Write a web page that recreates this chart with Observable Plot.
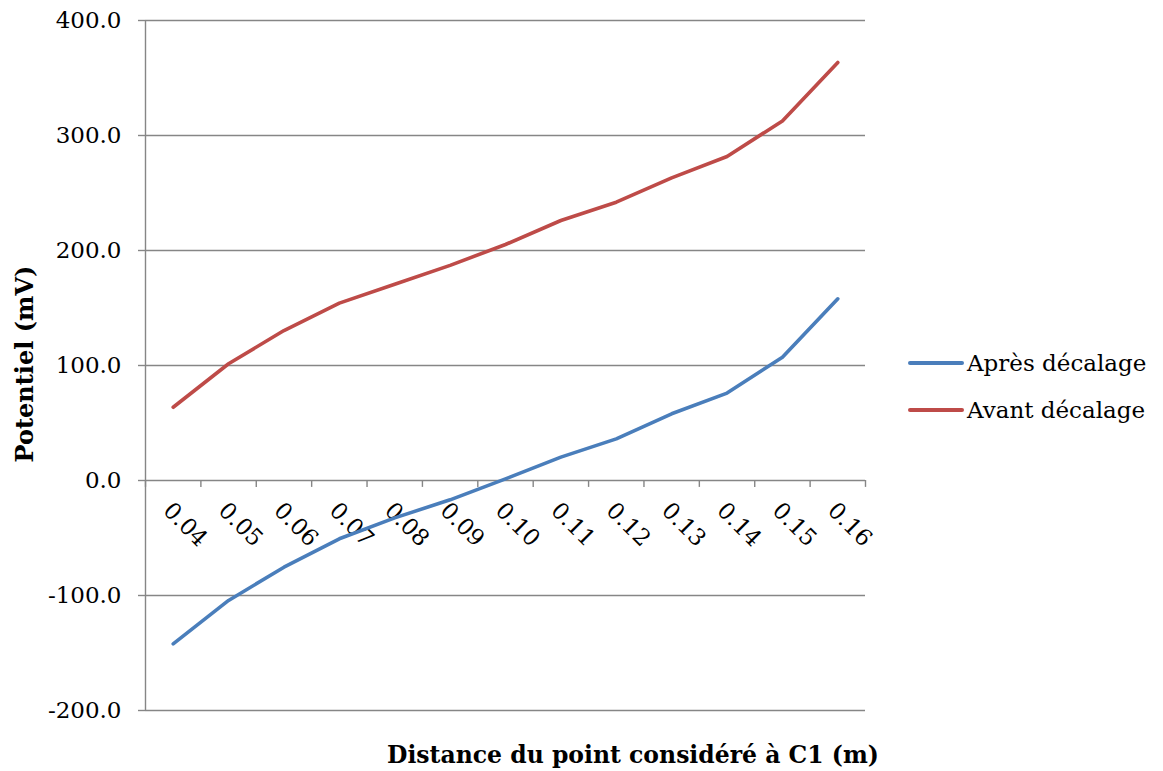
<!DOCTYPE html>
<html><head><meta charset="utf-8">
<script src="https://cdn.jsdelivr.net/npm/d3@7"></script>
<script src="https://cdn.jsdelivr.net/npm/@observablehq/plot@0.6"></script>
<style>
body{margin:0;background:#fff;}
#wrap{position:relative;width:1163px;height:771px;font-family:"DejaVu Serif",serif;color:#000;}
#wrap svg{position:absolute;left:0;top:0;}
.legend{position:absolute;left:908px;top:339px;font-size:23px;}
.item{display:flex;align-items:center;height:47px;}
.sw{width:56px;height:4px;border-radius:2px;margin-right:3px;}
.ytitle{position:absolute;left:24px;top:364px;transform:translate(-50%,-50%) rotate(-90deg);font-weight:bold;font-size:24px;white-space:nowrap;}
.xtitle{position:absolute;left:633px;top:755px;transform:translate(-50%,-50%);font-weight:bold;font-size:23.5px;white-space:nowrap;}
</style></head><body><div id="wrap"></div><script>
const categories = ["0.04","0.05","0.06","0.07","0.08","0.09","0.10","0.11","0.12","0.13","0.14","0.15","0.16"];
const apres = [-142, -104.3, -75.4, -50.7, -32.5, -16.8, 1.4, 20.3, 36.2, 58, 76, 107.2, 158];
const avant = [63.7, 101.5, 130.4, 154.2, 170.6, 187.1, 205.2, 226.1, 242, 263.2, 281.7, 312.7, 363.5];
const seriesNames = ["Après décalage", "Avant décalage"];
const seriesColors = ["#4a7ebb", "#be4b48"];
const yTicks = [-200, -100, 0, 100, 200, 300, 400];
const xTitle = "Distance du point considéré à C1 (m)";
const yTitle = "Potentiel (mV)";

const rows = [];
[apres, avant].forEach((vals, s) => vals.forEach((v, i) => rows.push({i, cat: categories[i], value: v, series: seriesNames[s]})));
const boundaries = d3.range(categories.length + 1).map(k => k - 0.5);
const gray = "#868686";
const font = "DejaVu Serif";

const chart = Plot.plot({
  width: 1163, height: 771,
  marginLeft: 145, marginRight: 298, marginTop: 20, marginBottom: 61,
  style: {fontFamily: font, background: "transparent"},
  x: {type: "linear", domain: [-0.5, categories.length - 0.5], axis: null},
  y: {domain: [-200, 400], axis: null},
  color: {domain: seriesNames, range: seriesColors},
  marks: [
    Plot.ruleY(yTicks, {stroke: gray, strokeWidth: 1.4}),
    Plot.ruleX([-0.5], {y1: -200, y2: 400, stroke: gray, strokeWidth: 1.4}),
    Plot.axisY(yTicks, {tickSize: 7, tickPadding: 17, stroke: gray, strokeWidth: 1.4, fill: "#000", fontSize: 23, tickFormat: d => d.toFixed(1), label: null}),
    Plot.ruleX(boundaries, {x: d => d, y1: 0, y2: -6, stroke: gray, strokeWidth: 1.4}),
    Plot.text(categories, {x: (d, i) => i, y: () => 0, text: d => d, rotate: 45, textAnchor: "start", dy: 26, dx: -6, fontSize: 23, fill: "#000"}),
    Plot.line(rows, {x: "i", y: "value", z: "series", stroke: "series", strokeWidth: 3.6, strokeLinejoin: "round", strokeLinecap: "round"})
  ]
});
const wrap = document.getElementById("wrap");
wrap.appendChild(chart);
const leg = document.createElement("div");
leg.className = "legend";
seriesNames.forEach((n, k) => {
  const it = document.createElement("div"); it.className = "item";
  const sw = document.createElement("span"); sw.className = "sw"; sw.style.background = seriesColors[k];
  const t = document.createElement("span"); t.textContent = n;
  it.appendChild(sw); it.appendChild(t); leg.appendChild(it);
});
wrap.appendChild(leg);
const yt = document.createElement("div"); yt.className = "ytitle"; yt.textContent = yTitle; wrap.appendChild(yt);
const xt = document.createElement("div"); xt.className = "xtitle"; xt.textContent = xTitle; wrap.appendChild(xt);
</script></body></html>
